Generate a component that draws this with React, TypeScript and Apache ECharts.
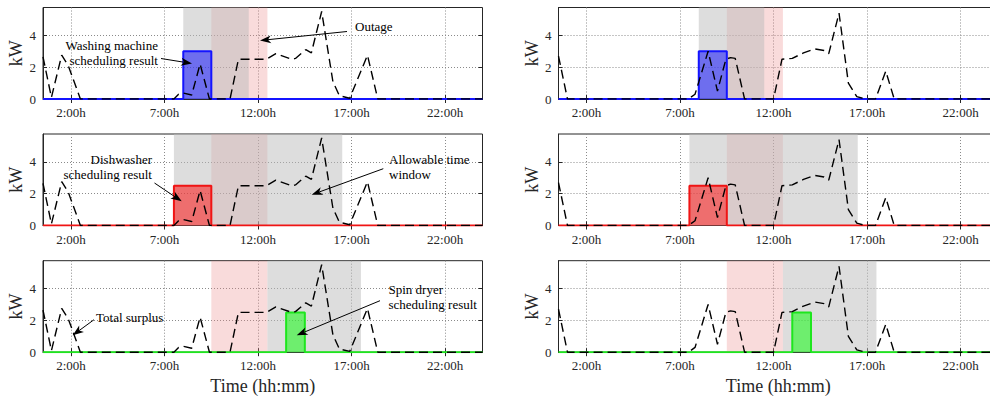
import React, { useEffect, useRef } from "react";
import * as echarts from "echarts";

// ---------- data ----------
const X_MIN = 0.5;
const X_MAX = 24;
const Y_MAX = 5.75;
const xTickValues = [2, 7, 12, 17, 22];
const yTickValues = [0, 2, 4];

// total surplus (hour, kW) – left column
const surplusLeft: [number, number][] = [
  [0.5, 2.65], [0.95, 0.1], [1.5, 2.75], [1.85, 2.1], [2.5, 0], [7.5, 0],
  [7.75, 0.3], [8.0, 0.37], [8.45, 0.25], [8.9, 2.2], [9.4, 0], [10.5, 0],
  [10.95, 2.5], [12.45, 2.5], [12.95, 2.85], [13.8, 2.5], [14.0, 2.55],
  [14.55, 3.1], [14.85, 2.9], [15.4, 5.5], [16.0, 1.1], [16.35, 0.2],
  [16.9, 0.05], [17.85, 2.75], [18.4, 0], [24, 0],
];
// total surplus (hour, kW) – right column
const surplusRight: [number, number][] = [
  [0.5, 2.7], [0.98, 0], [7.45, 0], [7.8, 0.3], [8.5, 3.0], [9.0, 0.5],
  [9.45, 2.5], [9.7, 2.6], [9.95, 2.55], [10.45, 0], [12.0, 0], [12.45, 2.5],
  [13.0, 2.55], [13.6, 2.9], [14.2, 3.15], [14.7, 3.05], [14.95, 2.85],
  [15.5, 5.4], [16.0, 1.0], [16.45, 0.15], [16.9, 0], [17.45, 0], [18.0, 1.75],
  [18.45, 0], [24, 0],
];

const appliances = ["Washing machine", "Dishwasher", "Spin dryer"];
const allowStart = [8.0, 7.5, 12.5];
const allowEnd = [11.5, 16.5, 17.5];
const outageStart = 9.5;
const outageEnd = 12.5;
const schedStartLeft = [8.0, 7.5, 13.5];
const schedStartRight = [8.0, 7.5, 13.0];
const schedHours = [1.5, 2.0, 1.0];
const schedPower = [3.0, 2.5, 2.5];

// ---------- styles ----------
const FONT = "'Liberation Serif', 'Times New Roman', serif";
const AX = "#262626";
const GRIDLINE = "#8a8a8a";
const lineColors = ["#1414ff", "#f01414", "#1ee61e"];
const fillColors = ["rgba(0,0,255,0.5)", "rgba(255,0,0,0.5)", "rgba(0,255,0,0.5)"];
const PINK = "rgba(235,135,135,0.3)";
const GRAY = "rgba(187,187,187,0.5)";

const gridLefts = [43, 558.5];
const gridWidth = 439.5;
const gridTops = [7.5, 134, 260.7];
const gridHeight = 91.5;

type Ann = { lines: string[]; x: number; y: number; align: "left" | "right"; from: [number, number]; to: [number, number] };
const annotations: Ann[] = [
  { lines: ["Washing machine", "scheduling result"], x: 158, y: 45.5, align: "right", from: [161, 58.5], to: [192, 63.5] },
  { lines: ["Outage"], x: 355, y: 26.5, align: "left", from: [347, 31.5], to: [260, 40.5] },
  { lines: ["Dishwasher", "scheduling result"], x: 152, y: 159.7, align: "right", from: [154.5, 183], to: [181.7, 201.3] },
  { lines: ["Allowable time", "window"], x: 389, y: 159.7, align: "left", from: [383.3, 168.7], to: [311.7, 194.7] },
  { lines: ["Spin dryer", "scheduling result"], x: 388.5, y: 289.7, align: "left", from: [380, 300.7], to: [296.7, 335.3] },
  { lines: ["Total surplus"], x: 96, y: 317.3, align: "left", from: [94, 319.7], to: [72.7, 335.3] },
];

function arrowGraphics(from: [number, number], to: [number, number]) {
  const [x1, y1] = from;
  const [x2, y2] = to;
  const dx = x2 - x1, dy = y2 - y1;
  const L = Math.hypot(dx, dy);
  const ux = dx / L, uy = dy / L;
  const len = 11, hw = 4, notch = 3;
  const bx = x2 - ux * len, by = y2 - uy * len;
  const px = -uy, py = ux;
  const nx = x2 - ux * (len - notch), ny = y2 - uy * (len - notch);
  return [
    { type: "line", z: 100, silent: true, shape: { x1, y1, x2: nx, y2: ny }, style: { stroke: "#000", lineWidth: 1 } },
    {
      type: "polygon", z: 100, silent: true,
      shape: { points: [[x2, y2], [bx + px * hw, by + py * hw], [nx, ny], [bx - px * hw, by - py * hw]] },
      style: { fill: "#000" },
    },
  ];
}

function buildOption() {
  const grids: any[] = [];
  const xAxes: any[] = [];
  const yAxes: any[] = [];
  const series: any[] = [];
  const topX: any[] = [];
  const rightY: any[] = [];

  for (let r = 0; r < 3; r++) {
    for (let c = 0; c < 2; c++) {
      const i = r * 2 + c;
      grids.push({
        left: gridLefts[c], top: gridTops[r], width: gridWidth, height: gridHeight,
        show: true, borderColor: AX, borderWidth: 1, backgroundColor: "transparent",
      });
      xAxes.push({
        type: "value", gridIndex: i, min: X_MIN, max: X_MAX,
        axisLine: { show: true, onZero: false, lineStyle: { color: AX, width: 1 } },
        axisTick: { show: true, inside: true, length: 4, customValues: xTickValues, lineStyle: { color: AX } },
        axisLabel: {
          customValues: xTickValues, formatter: (v: number) => `${v}:00h`,
          color: AX, fontFamily: FONT, fontSize: 13, margin: 7,
        },
        splitLine: { show: true, lineStyle: { type: [1, 2], color: GRIDLINE, width: 1 } },
        ...(r === 2
          ? { name: "Time (hh:mm)", nameLocation: "middle", nameGap: 25, nameTextStyle: { fontFamily: FONT, fontSize: 18, color: AX } }
          : {}),
      });
      topX.push({
        type: "value", gridIndex: i, min: X_MIN, max: X_MAX, position: "top",
        axisLine: { show: false },
        axisTick: { show: true, inside: true, length: 4, customValues: xTickValues, lineStyle: { color: AX } },
        axisLabel: { show: false }, splitLine: { show: false },
      });
      yAxes.push({
        type: "value", gridIndex: i, min: 0, max: Y_MAX, interval: 2,
        axisLine: { show: true, onZero: false, lineStyle: { color: AX, width: 1 } },
        axisTick: { show: true, inside: true, length: 4, customValues: yTickValues, lineStyle: { color: AX } },
        axisLabel: { customValues: yTickValues, color: AX, fontFamily: FONT, fontSize: 13, margin: 7 },
        splitLine: { show: true, lineStyle: { type: [1, 2], color: GRIDLINE, width: 1 } },
        name: "kW", nameLocation: "middle", nameGap: 18,
        nameTextStyle: { fontFamily: FONT, fontSize: 18, color: AX },
      });
      rightY.push({
        type: "value", gridIndex: i, min: 0, max: Y_MAX, interval: 2, position: "right",
        axisLine: { show: false },
        axisTick: { show: true, inside: true, length: 4, customValues: yTickValues, lineStyle: { color: AX } },
        axisLabel: { show: false }, splitLine: { show: false },
      });

      const s = c === 0 ? schedStartLeft[r] : schedStartRight[r];
      const e = s + schedHours[r];
      const p = schedPower[r];
      series.push({
        name: `${appliances[r]} scheduling result`,
        type: "line", xAxisIndex: i, yAxisIndex: i,
        data: [[X_MIN, 0], [s, 0], [s, p], [e, p], [e, 0], [X_MAX, 0]],
        showSymbol: false, symbol: "none", silent: true,
        lineStyle: { color: lineColors[r], width: 2 },
        areaStyle: { color: fillColors[r], opacity: 1 },
        markArea: {
          silent: true,
          data: [
            [{ xAxis: outageStart, itemStyle: { color: PINK } }, { xAxis: outageEnd }],
            [{ xAxis: allowStart[r], itemStyle: { color: GRAY } }, { xAxis: allowEnd[r] }],
          ],
        },
      });
      series.push({
        name: "Total surplus",
        type: "line", xAxisIndex: i, yAxisIndex: i,
        data: c === 0 ? surplusLeft : surplusRight,
        showSymbol: false, symbol: "none", silent: true,
        lineStyle: { color: "#000", width: 1.4, type: [9, 5] },
      });
    }
  }

  const graphic: any[] = [];
  for (const a of annotations) {
    a.lines.forEach((t, k) => {
      graphic.push({
        type: "text", z: 100, silent: true, x: a.x, y: a.y + k * 15,
        style: { text: t, font: `13px ${FONT}`, fill: "#000", textAlign: a.align, textVerticalAlign: "middle" },
      });
    });
    graphic.push(...arrowGraphics(a.from, a.to));
  }

  return {
    animation: false,
    backgroundColor: "#fff",
    grid: grids,
    xAxis: [...xAxes, ...topX],
    yAxis: [...yAxes, ...rightY],
    series,
    graphic,
  };
}

export default function App() {
  const ref = useRef<HTMLDivElement>(null);
  useEffect(() => {
    const chart = echarts.init(ref.current!, null, { renderer: "svg" });
    chart.setOption(buildOption() as any);
    return () => chart.dispose();
  }, []);
  return (
    <div style={{ position: "fixed", left: 0, top: 0, width: 990, height: 399, overflow: "hidden", background: "#fff" }}>
      <div ref={ref} style={{ width: 1000, height: 399 }} />
    </div>
  );
}
